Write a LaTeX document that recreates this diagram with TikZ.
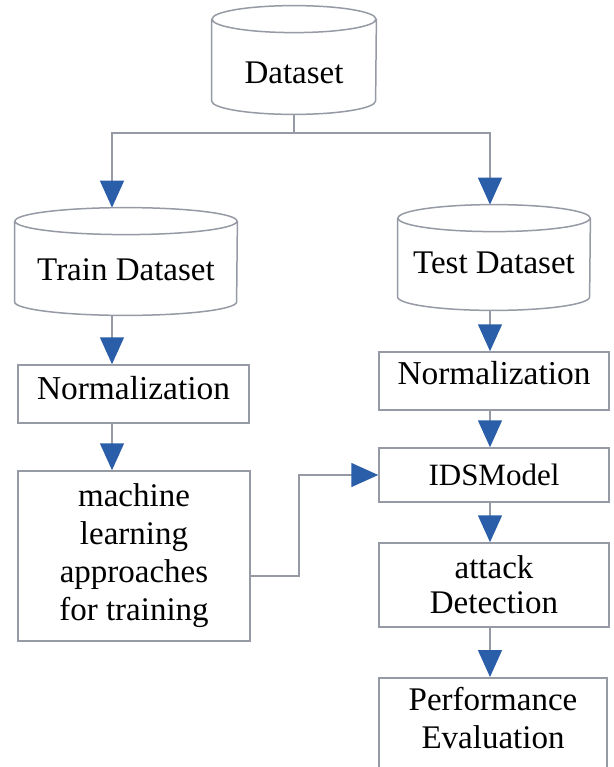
\documentclass[tikz,border=0pt]{standalone}
\usepackage{fontspec}
\setmainfont{Liberation Serif}
\usetikzlibrary{arrows.meta,positioning}
\definecolor{linegray}{RGB}{150,154,164}
\definecolor{tipblue}{RGB}{42,94,168}

\begin{document}
\begin{tikzpicture}[
  x=0.5pt, y=-0.5pt,
  every node/.style={font=\fontsize{16.5}{19}\selectfont},
  box/.style={draw=linegray, line width=0.75pt, align=center, inner sep=2pt},
  % drum outline drawn round the node's box
  db/.style={rectangle, inner sep=0pt, minimum width=#1, text depth=0pt,
    append after command={\pgfextra{
      \draw[draw=linegray, line width=0.75pt]
        ([yshift=-6.75pt]\tikzlastnode.north west) -- ([yshift=6.75pt]\tikzlastnode.south west)
        arc[start angle=180, end angle=360, x radius=#1/2, y radius=6.75pt]
        -- ([yshift=-6.75pt]\tikzlastnode.north east)
        ([yshift=-6.75pt]\tikzlastnode.north) ellipse[x radius=#1/2, y radius=6.75pt];
    }}},
  link/.style={draw=linegray, line width=0.75pt},
  arr/.style={link, -{Triangle[width=12pt, length=13.5pt, color=tipblue]}}
]
\useasboundingbox (0,0) rectangle (614,767);

% data sources
\node[db=82pt, minimum height=54pt, text height=23.3pt] (data) at (294,60) {Dataset};
\node[db=111pt, minimum height=53.5pt, text height=19pt] (train) at (126,261.5) {Train Dataset};
\node[db=96pt, minimum height=52.5pt, text height=15.5pt] (test) at (494,257.5) {Test Dataset};

% training branch
\node[box, minimum width=115.5pt, minimum height=29pt, font=\fontsize{16.7}{20}\selectfont, text depth=6.5pt] (normL) at (133.5,394) {Normalization};
\node[box, minimum width=116pt, minimum height=85pt] (ml) at (134,556) {machine\\learning\\approaches\\for training};

% testing branch
\node[box, minimum width=115pt, minimum height=29pt, font=\fontsize{16.7}{20}\selectfont, text depth=8pt] (normR) at (494,381) {Normalization};
\node[box, minimum width=115pt, minimum height=27pt, font=\fontsize{15.5}{18}\selectfont] (ids) at (494,475) {IDSModel};
\node[box, minimum width=115pt, minimum height=42pt, font=\fontsize{16.5}{17.5}\selectfont] (att) at (494,585) {attack\\Detection};
\node[box, anchor=north, minimum width=114pt, minimum height=50pt, text depth=10pt] (perf) at (493,677) {Performance\\Evaluation};

% lanes for the vertical connectors
\coordinate (laneL) at (112,0);
\coordinate (laneR) at (490,0);
\coordinate (split) at (data.south |- 0,133);

\draw[link] (data.south) -- (split);
\draw[arr] (split) -| (laneL |- train.north);
\draw[arr] (split) -| (laneR |- test.north);
\draw[arr] (laneL |- train.south) -- (laneL |- normL.north);
\draw[arr] (laneL |- normL.south) -- (laneL |- ml.north);
\draw[arr] (ml.east |- 0,576) -- ++(48,0) |- (ids.west);
\draw[arr] (laneR |- test.south) -- (laneR |- normR.north);
\draw[arr] (laneR |- normR.south) -- (laneR |- ids.north);
\draw[arr] (laneR |- ids.south) -- (laneR |- att.north);
\draw[arr] (laneR |- att.south) -- (laneR |- perf.north);
\end{tikzpicture}
\end{document}
